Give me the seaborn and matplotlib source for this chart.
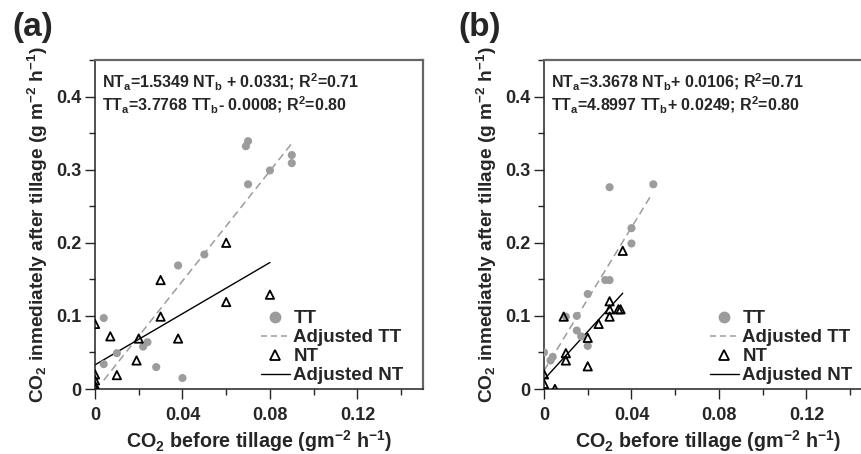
import numpy as np
import pandas as pd
import matplotlib
matplotlib.use("Agg")
import matplotlib.pyplot as plt
import seaborn as sns
from matplotlib.ticker import MultipleLocator, FixedLocator, FixedFormatter
from matplotlib.lines import Line2D

# ---- data (panel a) ----
a_tt_x = [0.004, 0.004, 0.010, 0.022, 0.024, 0.028, 0.040, 0.038, 0.050,
          0.069, 0.070, 0.070, 0.080, 0.090, 0.090]
a_tt_y = [0.097, 0.034, 0.049, 0.058, 0.064, 0.030, 0.015, 0.169, 0.184,
          0.332, 0.339, 0.280, 0.299, 0.320, 0.309]
a_nt_x = [0.0, 0.0, 0.0, 0.0, 0.0, 0.007, 0.010, 0.019, 0.020, 0.030,
          0.030, 0.038, 0.060, 0.060, 0.080]
a_nt_y = [0.089, 0.020, 0.012, 0.005, 0.001, 0.072, 0.019, 0.039, 0.069, 0.149,
          0.099, 0.069, 0.200, 0.119, 0.129]
a_tt_fit_x = [0.004, 0.090]
a_tt_fit_y = [0.012, 0.336]
a_nt_fit_x = [0.0, 0.080]
a_nt_fit_y = [0.033, 0.173]
a_eq = [r"NT$_\mathbf{a}$=1.5349 NT$_\mathbf{b}$ + 0.0331; R$^\mathbf{2}$=0.71",
        r"TT$_\mathbf{a}$=3.7768 TT$_\mathbf{b}$- 0.0008; R$^\mathbf{2}$=0.80"]

# ---- data (panel b) ----
b_tt_x = [0.0, 0.003, 0.004, 0.010, 0.015, 0.015, 0.017, 0.020, 0.020,
          0.028, 0.030, 0.030, 0.040, 0.040, 0.050]
b_tt_y = [0.050, 0.039, 0.044, 0.099, 0.100, 0.080, 0.072, 0.130, 0.059,
          0.149, 0.149, 0.276, 0.220, 0.199, 0.280]
b_nt_x = [0.0, 0.0, 0.005, 0.009, 0.010, 0.010, 0.020, 0.020, 0.025,
          0.030, 0.030, 0.030, 0.034, 0.035, 0.036]
b_nt_y = [0.020, 0.007, 0.0, 0.099, 0.049, 0.039, 0.070, 0.031, 0.089,
          0.120, 0.109, 0.099, 0.109, 0.109, 0.189]
b_tt_fit_x = [0.0, 0.049]
b_tt_fit_y = [0.025, 0.265]
b_nt_fit_x = [0.0, 0.036]
b_nt_fit_y = [0.013, 0.131]
b_eq = [r"NT$_\mathbf{a}$=3.3678 NT$_\mathbf{b}$+ 0.0106; R$^\mathbf{2}$=0.71",
        r"TT$_\mathbf{a}$=4.8997 TT$_\mathbf{b}$+ 0.0249; R$^\mathbf{2}$=0.80"]

x_ticks = [0, 0.04, 0.08, 0.12]
x_ticklabels = ["0", "0.04", "0.08", "0.12"]
y_ticks = [0, 0.1, 0.2, 0.3, 0.4]
y_ticklabels = ["0", "0.1", "0.2", "0.3", "0.4"]
legend_labels = ["TT", "Adjusted TT", "NT", "Adjusted NT"]
panel_names = ["(a)", "(b)"]

sns.set_style("ticks")
plt.rcParams["font.family"] = ["Liberation Sans", "DejaVu Sans"]
plt.rcParams["font.weight"] = "bold"
plt.rcParams["mathtext.fontset"] = "custom"
plt.rcParams["mathtext.rm"] = "Liberation Sans:bold"
plt.rcParams["mathtext.bf"] = "Liberation Sans:bold"
plt.rcParams["mathtext.default"] = "bf"

gray = "#9c9c9c"

fig = plt.figure(figsize=(8.61, 4.54), dpi=100)
ax_a = fig.add_axes([95 / 861, 65 / 454, 328 / 861, 329 / 454])
ax_b = fig.add_axes([544 / 861, 65 / 454, 328 / 861, 329 / 454])

panels = [
    (ax_a, a_tt_x, a_tt_y, a_nt_x, a_nt_y, a_tt_fit_x, a_tt_fit_y, a_nt_fit_x, a_nt_fit_y, a_eq),
    (ax_b, b_tt_x, b_tt_y, b_nt_x, b_nt_y, b_tt_fit_x, b_tt_fit_y, b_nt_fit_x, b_nt_fit_y, b_eq),
]

for i, (ax, ttx, tty, ntx, nty, tfx, tfy, nfx, nfy, eq) in enumerate(panels):
    sns.scatterplot(x=ttx, y=tty, ax=ax, color=gray, s=34, edgecolor="none",
                    zorder=3)
    sns.lineplot(x=tfx, y=tfy, ax=ax, color=gray, linestyle=(0, (5, 3)),
                 linewidth=1.1, zorder=2)
    sns.scatterplot(x=ntx, y=nty, ax=ax, marker="^", s=36, facecolor="none",
                    edgecolor="black", linewidth=1.3, zorder=4)
    sns.lineplot(x=nfx, y=nfy, ax=ax, color="black", linewidth=1.0, zorder=2)

    ax.set_xlim(0, 0.15)
    ax.set_ylim(0, 0.45)
    ax.xaxis.set_major_locator(FixedLocator(x_ticks))
    ax.xaxis.set_major_formatter(FixedFormatter(x_ticklabels))
    ax.yaxis.set_major_locator(FixedLocator(y_ticks))
    ax.yaxis.set_major_formatter(FixedFormatter(y_ticklabels))
    ax.xaxis.set_minor_locator(MultipleLocator(0.02))
    ax.yaxis.set_minor_locator(MultipleLocator(0.05))
    ax.tick_params(which="major", direction="out", length=7, width=1,
                   labelsize=13)
    ax.tick_params(axis="x", which="major", pad=6)
    ax.tick_params(axis="y", which="major", pad=3)
    ax.tick_params(which="minor", direction="out", length=4, width=1)
    for lab in ax.get_xticklabels() + ax.get_yticklabels():
        lab.set_fontweight("bold")

    for side in ["left", "bottom"]:
        ax.spines[side].set_color("#222222")
        ax.spines[side].set_linewidth(1.1)
    for side in ["top", "right"]:
        ax.spines[side].set_visible(True)
        ax.spines[side].set_color("#666666")
        ax.spines[side].set_linewidth(1.6)

    ax.set_xlabel(r"CO$_2$ before tillage (gm$^{-2}$ h$^{-1}$)",
                  fontsize=14.2, fontweight="bold", labelpad=3)
    ax.set_ylabel(r"CO$_2$ inmediately after tillage (g m$^{-2}$ h$^{-1}$)",
                  fontsize=13.8, fontweight="bold", labelpad=4)

    ax.text(0.02, 0.965, eq[0], transform=ax.transAxes, fontsize=11.5,
            fontweight="bold", va="top", ha="left")
    ax.text(0.02, 0.895, eq[1], transform=ax.transAxes, fontsize=11.5,
            fontweight="bold", va="top", ha="left")

    handles = [
        Line2D([], [], marker="o", color=gray, linestyle="none", markersize=7.5),
        Line2D([], [], color=gray, linestyle=(0, (4, 2.5)), linewidth=1.1),
        Line2D([], [], marker="^", markerfacecolor="none", markeredgecolor="black",
               markeredgewidth=1.3, linestyle="none", markersize=6.5),
        Line2D([], [], color="black", linewidth=1.0),
    ]
    ax.legend(handles, legend_labels, loc="lower left",
              bbox_to_anchor=(0.505, 0.015), frameon=False, borderpad=0,
              borderaxespad=0, prop={"size": 13.5, "weight": "bold"},
              labelspacing=0.1, handlelength=1.55, handletextpad=0.2)

fig.text(12 / 861, 1 - 36 / 454, panel_names[0], fontsize=24, fontweight="bold")
fig.text(458 / 861, 1 - 36 / 454, panel_names[1], fontsize=24, fontweight="bold")

fig.savefig("out.png", dpi=100)
